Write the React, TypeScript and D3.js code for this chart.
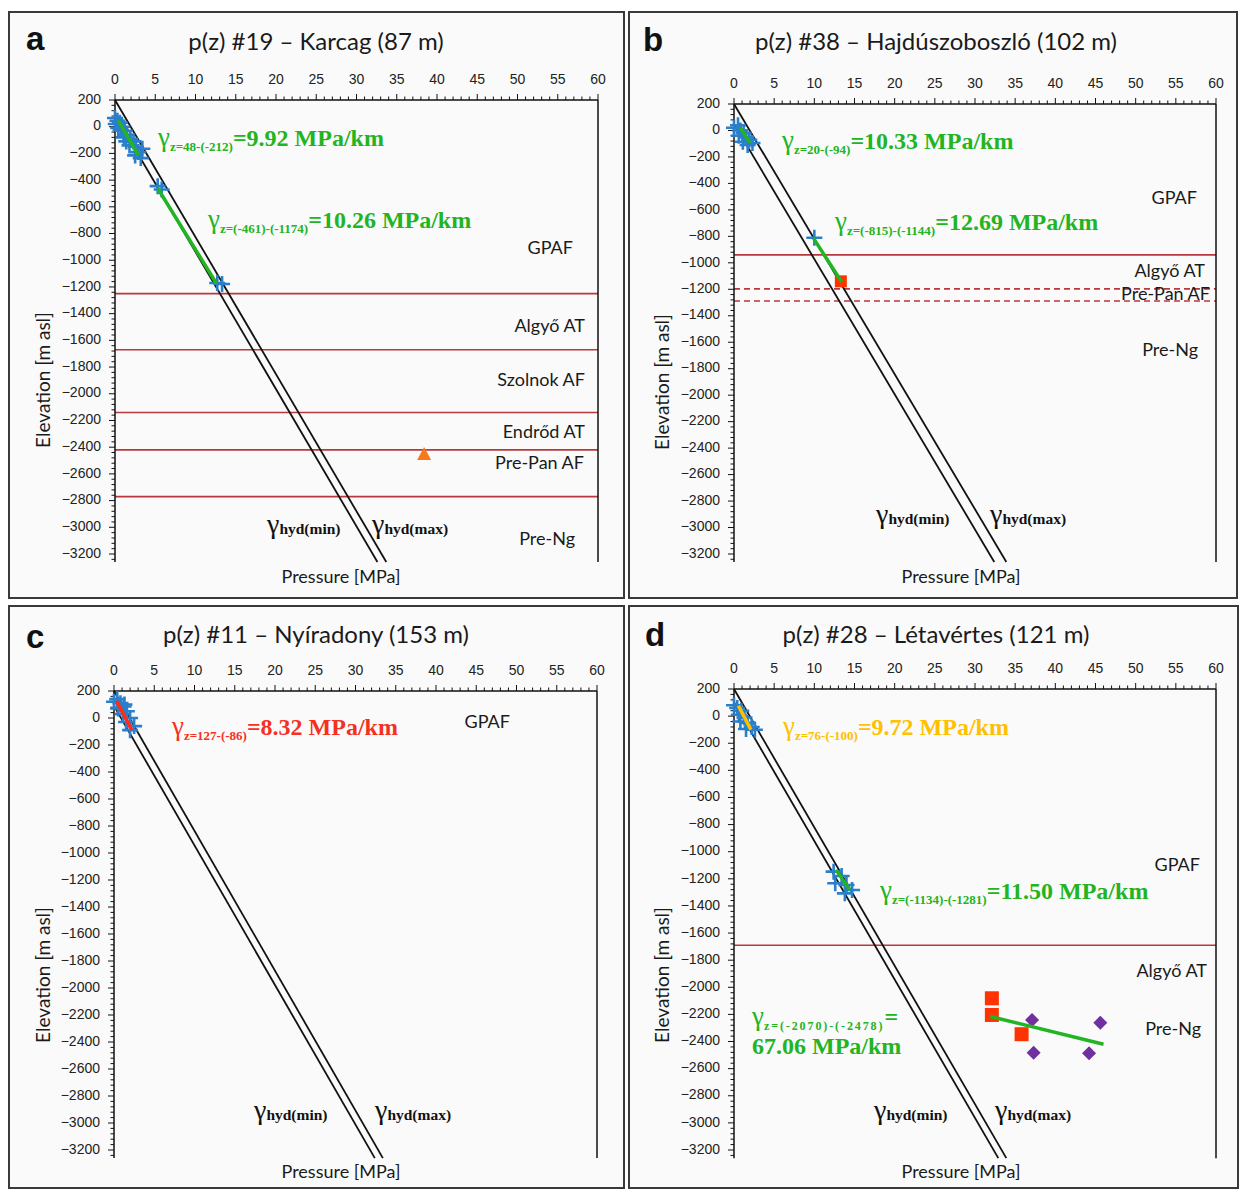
import React from "react";
import * as d3 from "d3";

type Pt = [number, number];

const W = 1239;
const H = 1189;
const SANS = "Lato, 'Open Sans', sans-serif";
const TICKF = "'Liberation Sans', Arial, sans-serif";
const SERIF = "'Liberation Serif', 'Times New Roman', serif";

const GREEN = "#22b422";
const RED_TXT = "#f5301e";
const YELLOW = "#ffc000";
const BLUE = "#2b7fca";
const FORM = "#b8383d";

const xTickValues = d3.range(0, 61, 5);
const yTickValues = d3.range(200, -3201, -200);
const xDomain: Pt = [0, 60];
const yDomain: Pt = [200, -3200];
const zAxisEnd = -3260;

// ---------- Panel a : Karcag ----------
const aTitle = "p(z) #19 – Karcag (87 m)";
const aCrosses: Pt[] = [
  [0.0, 65], [0.3, 45], [0.1, 20], [0.6, 30], [0.9, 0], [0.7, -25], [1.2, -30],
  [1.5, -60], [1.1, -80], [1.9, -90], [2.3, -110], [1.8, -140], [2.6, -150],
  [3.4, -165], [2.9, -190], [2.5, -215], [3.2, -235], [0.4, -10], [1.4, -110],
  [5.3, -445], [5.8, -470],
  [12.7, -1170], [13.3, -1178],
];
const aFit1: Pt[] = [[0.4, 48], [2.9, -212]];
const aFit2: Pt[] = [[5.3, -461], [12.6, -1174]];
const aTriangles: Pt[] = [[38.4, -2452]];
const aBoundaries = [-1250, -1670, -2140, -2420, -2770];
const aFormations = ["GPAF", "Algyő AT", "Szolnok AF", "Endrőd AT", "Pre-Pan AF", "Pre-Ng"];
const aFormationZ = [-916, -1500, -1905, -2294, -2527, -3096];
const aHydMin: Pt[] = [[0, 90], [32.6, -3260]];
const aHydMax: Pt[] = [[0, 200], [33.7, -3260]];
const aGamma1 = { sub: "z=48-(-212)", val: "=9.92 MPa/km" };
const aGamma2 = { sub: "z=(-461)-(-1174)", val: "=10.26 MPa/km" };

// ---------- Panel b : Hajdúszoboszló ----------
const bTitle = "p(z) #38 – Hajdúszoboszló (102 m)";
const bCrosses: Pt[] = [
  [0.0, 20], [0.5, 40], [0.8, 0], [1.2, -20], [0.6, -40], [1.5, -50], [1.9, -70],
  [1.1, -85], [2.3, -95], [1.7, -110], [10.0, -810],
];
const bFit1: Pt[] = [[0.8, 20], [2.0, -94]];
const bFit2: Pt[] = [[9.9, -815], [13.4, -1144]];
const bSquares: Pt[] = [[13.3, -1140]];
const bBoundariesSolid = [-940];
const bBoundariesDashed = [-1197, -1288];
const bFormations = ["GPAF", "Algyő AT", "Pre-Pan AF", "Pre-Ng"];
const bFormationZ = [-518, -1076, -1250, -1666];
const bHydMin: Pt[] = [[0, 50], [32.4, -3260]];
const bHydMax: Pt[] = [[0, 200], [33.9, -3260]];
const bGamma1 = { sub: "z=20-(-94)", val: "=10.33 MPa/km" };
const bGamma2 = { sub: "z=(-815)-(-1144)", val: "=12.69 MPa/km" };

// ---------- Panel c : Nyíradony ----------
const cTitle = "p(z) #11 – Nyíradony (153 m)";
const cCrosses: Pt[] = [
  [0.0, 120], [0.4, 140], [0.8, 110], [1.3, 100], [1.2, 85], [0.5, 70], [1.6, 50],
  [1.1, 30], [2.0, 0], [1.5, -30], [2.5, -60], [2.0, -90],
];
const cFit1: Pt[] = [[0.3, 127], [2.2, -86]];
const cFormations = ["GPAF"];
const cFormationZ = [-37];
const cHydMin: Pt[] = [[0, 90], [32.4, -3260]];
const cHydMax: Pt[] = [[0, 200], [33.4, -3260]];
const cGamma1 = { sub: "z=127-(-86)", val: "=8.32 MPa/km" };

// ---------- Panel d : Létavértes ----------
const dTitle = "p(z) #28 – Létavértes (121 m)";
const dCrosses: Pt[] = [
  [0.0, 80], [0.4, 60], [0.9, 40], [0.6, 10], [1.3, -10], [0.8, -40], [1.7, -50],
  [2.2, -80], [1.5, -95], [2.6, -100],
  [12.4, -1147], [13.4, -1179], [12.6, -1233], [14.0, -1245], [14.7, -1282], [13.8, -1307],
];
const dFit1: Pt[] = [[0.55, 76], [2.1, -100]];
const dFit2: Pt[] = [[12.7, -1134], [14.4, -1281]];
const dFit3: Pt[] = [[31.9, -2215], [46.0, -2420]];
const dSquares: Pt[] = [[32.1, -2081], [32.1, -2204], [35.8, -2346]];
const dDiamonds: Pt[] = [[37.1, -2241], [37.3, -2482], [45.6, -2261], [44.2, -2487]];
const dBoundaries = [-1690];
const dFormations = ["GPAF", "Algyő AT", "Pre-Ng"];
const dFormationZ = [-1105, -1894, -2315];
const dHydMin: Pt[] = [[0, 100], [32.9, -3260]];
const dHydMax: Pt[] = [[0, 200], [33.9, -3260]];
const dGamma1 = { sub: "z=76-(-100)", val: "=9.72 MPa/km" };
const dGamma2 = { sub: "z=(-1134)-(-1281)", val: "=11.50 MPa/km" };
const dGamma3 = { sub: "z=(-2070)-(-2478)", val: "=", val2: "67.06 MPa/km" };

// ---------- layout ----------
interface Layout {
  fx: number; fy: number; fw: number; fh: number;
  left: number; right: number; top: number; bottom: number;
  letter: string; lx: number; ly: number;
  titleX: number; titleY: number;
  yLabelX: number; yLabelY: number;
  xLabelX: number; xLabelY: number;
  hydMinX: number; hydMaxX: number; hydY: number;
}

const layA: Layout = {
  fx: 9, fy: 12, fw: 615, fh: 586, left: 115, right: 598, top: 100, bottom: 554,
  letter: "a", lx: 26, ly: 50, titleX: 316, titleY: 50,
  yLabelX: 50, yLabelY: 380, xLabelX: 341, xLabelY: 583,
  hydMinX: 267, hydMaxX: 372, hydY: 533,
};
const layB: Layout = {
  fx: 629, fy: 12, fw: 608, fh: 586, left: 734, right: 1216, top: 104, bottom: 554,
  letter: "b", lx: 643, ly: 51, titleX: 936, titleY: 50,
  yLabelX: 669, yLabelY: 382, xLabelX: 961, xLabelY: 583,
  hydMinX: 876, hydMaxX: 990, hydY: 523,
};
const layC: Layout = {
  fx: 9, fy: 606, fw: 615, fh: 582, left: 114, right: 597, top: 691, bottom: 1150,
  letter: "c", lx: 26, ly: 648, titleX: 316, titleY: 643,
  yLabelX: 50, yLabelY: 975, xLabelX: 341, xLabelY: 1178,
  hydMinX: 254, hydMaxX: 375, hydY: 1119,
};
const layD: Layout = {
  fx: 629, fy: 606, fw: 609, fh: 582, left: 734, right: 1216, top: 689, bottom: 1150,
  letter: "d", lx: 645, ly: 646, titleX: 936, titleY: 643,
  yLabelX: 669, yLabelY: 975, xLabelX: 961, xLabelY: 1178,
  hydMinX: 874, hydMaxX: 995, hydY: 1119,
};

function Cross({ x, y }: { x: number; y: number }) {
  const s = 8;
  return (
    <path d={`M${x - s},${y}H${x + s}M${x},${y - s}V${y + s}`} stroke={BLUE} strokeWidth={2.6} fill="none" />
  );
}

function Gamma({ x, y, sub, val, color, subSize = 13, spacing = 0 }: any) {
  return (
    <text x={x} y={y} fill={color} fontFamily={SERIF}>
      <tspan fontSize={27}>γ</tspan>
      <tspan fontSize={subSize} fontWeight="bold" dy={5} letterSpacing={spacing}>{sub}</tspan>
      <tspan fontSize={24} fontWeight="bold" dy={-5}>{val}</tspan>
    </text>
  );
}

function HydLabel({ x, y, which }: { x: number; y: number; which: string }) {
  return (
    <text x={x} y={y} fill="#111" fontFamily={SERIF}>
      <tspan fontSize={28}>γ</tspan>
      <tspan fontSize={15.5} fontWeight="bold" dy={1}>{`hyd(${which})`}</tspan>
    </text>
  );
}

function Frame({ L, title, children, hydMin, hydMax, boundaries = [], dashed = [], formations = [], formationZ = [], formationInset = [] }: any) {
  const x = d3.scaleLinear().domain(xDomain).range([L.left, L.right]);
  const y = d3.scaleLinear().domain(yDomain).range([L.top, L.bottom]);
  const yEnd = y(zAxisEnd);
  const line = d3.line<Pt>().x((d) => x(d[0])).y((d) => y(d[1]));
  const xMinor = d3.range(0, 61, 1);
  const yMinor = d3.range(200, zAxisEnd, -40);
  return (
    <g>
      <rect x={L.fx} y={L.fy} width={L.fw} height={L.fh} fill="#fafafa" stroke="#3a3a3a" strokeWidth={2} />
      <text x={L.lx} y={L.ly} fontFamily="'Liberation Sans', Arial, sans-serif" fontWeight="bold" fontSize={33} fill="#111">{L.letter}</text>
      <text x={L.titleX} y={L.titleY} textAnchor="middle" fontFamily={SANS} fontSize={24} fill="#1a1a1a">{title}</text>
      {boundaries.map((z: number, i: number) => (
        <line key={"b" + i} x1={L.left} x2={L.right} y1={y(z)} y2={y(z)} stroke={FORM} strokeWidth={1.6} />
      ))}
      {dashed.map((z: number, i: number) => (
        <line key={"d" + i} x1={L.left} x2={L.right} y1={y(z)} y2={y(z)} stroke={FORM} strokeWidth={1.6} strokeDasharray="6,4" />
      ))}
      {formations.map((n: string, i: number) => (
        <text key={"f" + i} x={L.right - (formationInset[i] ?? 13)} y={y(formationZ[i])} textAnchor="end" dominantBaseline="middle" fontFamily={SANS} fontSize={18} fill="#1a1a1a">{n}</text>
      ))}
      <line x1={L.left} x2={L.right} y1={L.top} y2={L.top} stroke="#111" strokeWidth={1.5} />
      <line x1={L.left} x2={L.left} y1={L.top} y2={yEnd} stroke="#111" strokeWidth={1.5} />
      <line x1={L.right} x2={L.right} y1={L.top} y2={yEnd} stroke="#111" strokeWidth={1.5} />
      {xMinor.map((v) => (
        <line key={"xm" + v} x1={x(v)} x2={x(v)} y1={L.top} y2={L.top - (v % 5 === 0 ? 6 : 3.5)} stroke="#111" strokeWidth={1} />
      ))}
      {xTickValues.map((v) => (
        <text key={"xt" + v} x={x(v)} y={L.top - 16} textAnchor="middle" fontFamily={TICKF} fontSize={14} fill="#222">{v}</text>
      ))}
      {yMinor.map((v) => (
        <line key={"ym" + v} x1={L.left} x2={L.left - (v % 200 === 0 ? 6 : 3.5)} y1={y(v)} y2={y(v)} stroke="#111" strokeWidth={1} />
      ))}
      {yTickValues.map((v) => (
        <text key={"yt" + v} x={L.left - 14} y={y(v)} textAnchor="end" dominantBaseline="middle" fontFamily={TICKF} fontSize={14} fill="#222">{v < 0 ? "\u2212" + Math.abs(v) : String(v)}</text>
      ))}
      <text transform={`translate(${L.yLabelX},${L.yLabelY}) rotate(-90)`} textAnchor="middle" fontFamily={SANS} fontSize={19} fill="#1a1a1a">Elevation [m asl]</text>
      <text x={L.xLabelX} y={L.xLabelY} textAnchor="middle" fontFamily={SANS} fontSize={18} fill="#1a1a1a">Pressure [MPa]</text>
      <path d={line(hydMin) || ""} stroke="#111" strokeWidth={1.8} fill="none" />
      <path d={line(hydMax) || ""} stroke="#111" strokeWidth={1.8} fill="none" />
      <HydLabel x={L.hydMinX} y={L.hydY} which="min" />
      <HydLabel x={L.hydMaxX} y={L.hydY} which="max" />
      {children(x, y, line)}
    </g>
  );
}

function Crosses({ pts, x, y }: any) {
  return <g>{pts.map((p: Pt, i: number) => <Cross key={i} x={x(p[0])} y={y(p[1])} />)}</g>;
}

function FitLine({ pts, line, color }: any) {
  return <path d={line(pts) || ""} stroke={color} strokeWidth={3.5} fill="none" />;
}

export default function App() {
  return (
    <svg width={W} height={H} style={{ position: "absolute", left: 0, top: 0, background: "#fff" }}>
      <rect x={0} y={0} width={W} height={H} fill="#fff" />
      <Frame L={layA} title={aTitle} hydMin={aHydMin} hydMax={aHydMax} boundaries={aBoundaries}
        formations={aFormations} formationZ={aFormationZ} formationInset={[25, 13, 13, 13, 14, 23]}>
        {(x: any, y: any, line: any) => (
          <g>
            <Crosses pts={aCrosses} x={x} y={y} />
            <FitLine pts={aFit1} line={line} color={GREEN} />
            <FitLine pts={aFit2} line={line} color={GREEN} />
            {aTriangles.map((p, i) => {
              const cx = x(p[0]), cy = y(p[1]);
              return <path key={i} d={`M${cx},${cy - 7}L${cx + 7},${cy + 6}L${cx - 7},${cy + 6}Z`} fill="#f77a1a" />;
            })}
            <Gamma x={158} y={146} sub={aGamma1.sub} val={aGamma1.val} color={GREEN} />
            <Gamma x={208} y={228} sub={aGamma2.sub} val={aGamma2.val} color={GREEN} />
          </g>
        )}
      </Frame>
      <Frame L={layB} title={bTitle} hydMin={bHydMin} hydMax={bHydMax} boundaries={bBoundariesSolid} dashed={bBoundariesDashed}
        formations={bFormations} formationZ={bFormationZ} formationInset={[19, 11, 6, 18]}>
        {(x: any, y: any, line: any) => (
          <g>
            <Crosses pts={bCrosses} x={x} y={y} />
            <FitLine pts={bFit1} line={line} color={GREEN} />
            {bSquares.map((p, i) => (
              <rect key={i} x={x(p[0]) - 6} y={y(p[1]) - 6} width={12} height={12} fill="#ff3300" />
            ))}
            <FitLine pts={bFit2} line={line} color={GREEN} />
            <Gamma x={782} y={149} sub={bGamma1.sub} val={bGamma1.val} color={GREEN} />
            <Gamma x={835} y={230} sub={bGamma2.sub} val={bGamma2.val} color={GREEN} />
          </g>
        )}
      </Frame>
      <Frame L={layC} title={cTitle} hydMin={cHydMin} hydMax={cHydMax}
        formations={cFormations} formationZ={cFormationZ} formationInset={[87]}>
        {(x: any, y: any, line: any) => (
          <g>
            <Crosses pts={cCrosses} x={x} y={y} />
            <FitLine pts={cFit1} line={line} color="#ff2a1a" />
            <Gamma x={172} y={735} sub={cGamma1.sub} val={cGamma1.val} color={RED_TXT} />
          </g>
        )}
      </Frame>
      <Frame L={layD} title={dTitle} hydMin={dHydMin} hydMax={dHydMax} boundaries={dBoundaries}
        formations={dFormations} formationZ={dFormationZ} formationInset={[16, 9, 15]}>
        {(x: any, y: any, line: any) => (
          <g>
            <Crosses pts={dCrosses} x={x} y={y} />
            <FitLine pts={dFit1} line={line} color={YELLOW} />
            <FitLine pts={dFit2} line={line} color={GREEN} />
            {dSquares.map((p, i) => (
              <rect key={"s" + i} x={x(p[0]) - 7} y={y(p[1]) - 7} width={14} height={14} fill="#ff3300" />
            ))}
            {dDiamonds.map((p, i) => {
              const cx = x(p[0]), cy = y(p[1]);
              return <path key={"m" + i} d={`M${cx},${cy - 7}L${cx + 7},${cy}L${cx},${cy + 7}L${cx - 7},${cy}Z`} fill="#7030a0" />;
            })}
            <FitLine pts={dFit3} line={line} color={GREEN} />
            <Gamma x={752} y={1025} sub={dGamma3.sub} val={dGamma3.val} color={GREEN} subSize={12} spacing={1.9} />
            <text x={752} y={1054} fill={GREEN} fontFamily={SERIF} fontWeight="bold" fontSize={24}>{dGamma3.val2}</text>
            <Gamma x={783} y={735} sub={dGamma1.sub} val={dGamma1.val} color={YELLOW} />
            <Gamma x={880} y={899} sub={dGamma2.sub} val={dGamma2.val} color={GREEN} />
          </g>
        )}
      </Frame>
    </svg>
  );
}
